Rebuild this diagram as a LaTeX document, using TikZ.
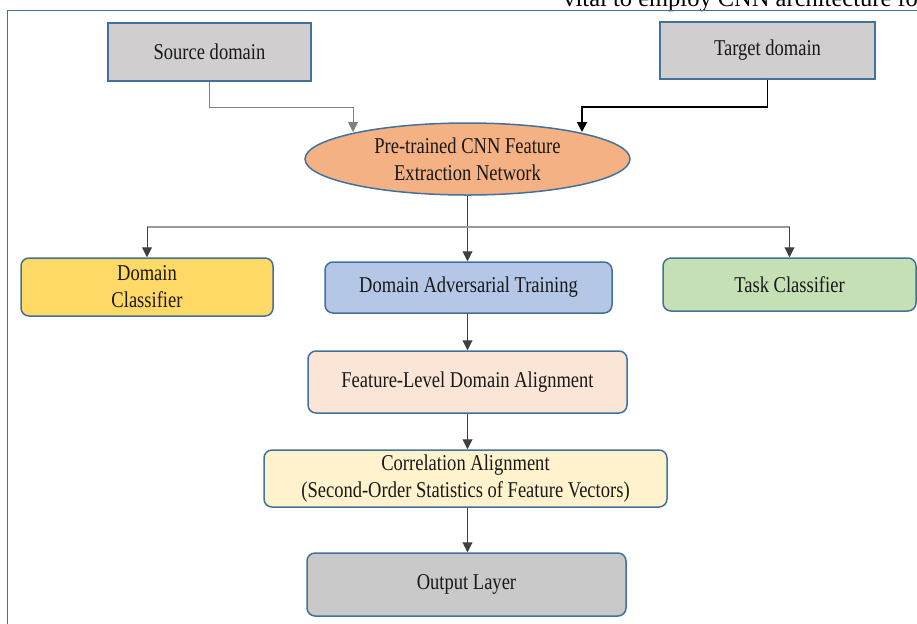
\documentclass[tikz,border=0pt]{standalone}
\usepackage{fontspec}
\setmainfont{Liberation Serif}
\newfontfamily\boxfont{Liberation Serif}[FakeStretch=0.82]
\usetikzlibrary{arrows.meta, positioning, shapes.geometric}

\definecolor{edgeblue}{HTML}{41719C}
\definecolor{inputgray}{HTML}{D0CECE}
\definecolor{cnnorange}{HTML}{F4B183}
\definecolor{dclsyellow}{HTML}{FFD966}
\definecolor{datblue}{HTML}{B4C7E7}
\definecolor{tclsgreen}{HTML}{C5E0B4}
\definecolor{flapeach}{HTML}{FBE5D6}
\definecolor{corrcream}{HTML}{FFF2CC}
\definecolor{outgray}{HTML}{C9C9C9}

\begin{document}
\begin{tikzpicture}[
        x=0.5pt, y=-0.5pt,
        box/.style={rectangle, draw=edgeblue, line width=0.75pt, inner sep=0pt,
                    align=center, text=black!90,
                    font=\boxfont\fontsize{11.3}{13.5}\selectfont},
        rbox/.style={box, rounded corners=4pt},
        cnnnode/.style={box, ellipse, fill=cnnorange},
        link/.style={-{Triangle[length=5pt, width=5pt]}, line width=0.5pt, black!75},
        >=Stealth
    ]
        \clip (0,0) rectangle (917,623);

        % page text and frame
        \node[anchor=base west, inner sep=0pt, font=\fontsize{12.25}{14}\selectfont]
            (pagetext) at (563,6) {vital to employ CNN architecture fo};
        \draw[edgeblue, line width=0.75pt] (7.5,640) -- (7.5,10.5) -- (940,10.5);

        % inputs
        \node[box, fill=inputgray, minimum width=101.5pt, minimum height=29pt]
            (src) at (209.5,52) {Source domain};
        \node[box, fill=inputgray, minimum width=107.5pt, minimum height=28.5pt]
            (tgt) at (767.5,50.5) {Target domain};

        \node[cnnnode, minimum width=162.5pt, minimum height=36pt]
            (cnn) at (467.5,159) {Pre-trained CNN Feature\\Extraction Network};

        % three branches
        \node[rbox, fill=dclsyellow, minimum width=126pt, minimum height=29pt]
            (dcls) at (147,287) {Domain\\Classifier};
        \node[rbox, fill=datblue, minimum width=143.5pt, minimum height=25.5pt]
            (dat) at (468.5,287.5) {Domain Adversarial Training};
        \node[rbox, fill=tclsgreen, minimum width=126.5pt, minimum height=26.5pt]
            (tcls) at (789.5,284.5) {Task Classifier};

        % alignment chain
        \node[rbox, fill=flapeach, minimum width=159.5pt, minimum height=31pt]
            (fla) at (467.5,382) {Feature-Level Domain Alignment};
        \node[rbox, fill=corrcream, minimum width=201.5pt, minimum height=28.5pt]
            (corr) at (465.5,478.5) {Correlation Alignment\\(Second-Order Statistics of Feature Vectors)};
        \node[rbox, fill=outgray, minimum width=159.5pt, minimum height=31.5pt]
            (out) at (466.5,584.5) {Output Layer};

        \coordinate (srcin) at (353,132);
        \coordinate (tgtin) at (582,132);
        \coordinate (bus) at (467.5,227);

        \draw[link, black!50] (src.south) -- ++(0,26) -| (srcin);
        \draw[link, black, line width=0.9pt] (tgt.south) -- ++(0,27) -| (tgtin);

        \draw[link] (cnn.south) -- (cnn.south |- dat.north);
        \draw[black!40, line width=1pt] (dcls.north |- bus) -- (tcls.north |- bus);
        \draw[link] (dcls.north |- bus) -- (dcls.north);
        \draw[link] (tcls.north |- bus) -- (tcls.north);

        \draw[link] (cnn.south |- dat.south) -- (cnn.south |- fla.north);
        \draw[link] (cnn.south |- fla.south) -- (cnn.south |- corr.north);
        \draw[link] (cnn.south |- corr.south) -- (cnn.south |- out.north);
    \end{tikzpicture}
\end{document}
